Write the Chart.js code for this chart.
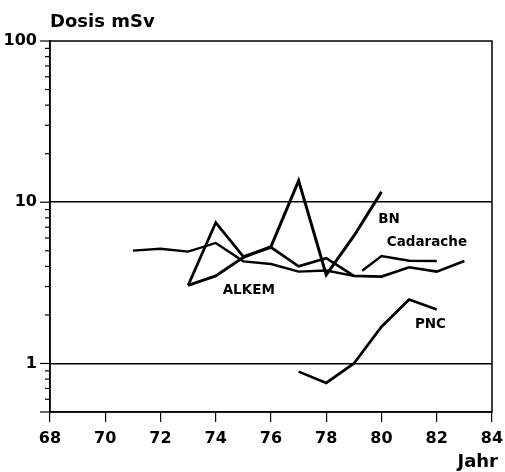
<!DOCTYPE html>
<html lang="de">
<head>
  <meta charset="UTF-8">
  <title>Dosis mSv</title>
  <script src="https://cdn.jsdelivr.net/npm/chart.js"></script>
  <style>
    body {
      margin: 0;
      background: #fff;
    }
  </style>
</head>
<body>
  <canvas id="doseChart" width="505" height="472"></canvas>

  <script>
    // Werte (Jahr, Dosis in mSv)
    const yearsAlkem = [73, 74, 75, 76, 77, 78, 79, 80, 81, 82, 83];
    const doseAlkem = [3.05, 7.47, 4.6, 5.25, 4.0, 4.5, 3.49, 3.46, 3.95, 3.71, 4.32];

    const yearsBN = [73, 74, 75, 76, 77, 78, 79, 80];
    const doseBN = [3.05, 3.49, 4.55, 5.3, 13.6, 3.54, 6.18, 11.6];

    const yearsEarly = [71, 72, 73, 74, 75, 76, 77, 78, 79];
    const doseEarly = [5.01, 5.15, 4.94, 5.59, 4.3, 4.14, 3.71, 3.77, 3.49];

    const yearsCadarache = [79.3, 80, 81, 82];
    const doseCadarache = [3.76, 4.64, 4.34, 4.32];

    const yearsPNC = [77, 78, 79, 80, 81, 82];
    const dosePNC = [0.89, 0.757, 1.0, 1.69, 2.49, 2.16];

    const yTickValues = [0.5, 0.6, 0.7, 0.8, 0.9, 1, 2, 3, 4, 5, 6, 7, 8, 9,
      10, 20, 30, 40, 50, 60, 70, 80, 90, 100];
    const yLabelValues = [1, 10, 100];
    const yTitle = 'Dosis mSv';
    const xTitle = 'Jahr';

    const toPoints = (xs, ys) => xs.map((x, i) => ({ x: x, y: ys[i] }));

    // Beschriftungen an den Kurven (Jahr, Dosis der Grundlinie)
    const curveLabels = [
      { text: 'BN', year: 79.88, dose: 7.4 },
      { text: 'Cadarache', year: 80.19, dose: 5.36 },
      { text: 'ALKEM', year: 74.25, dose: 2.7 },
      { text: 'PNC', year: 81.21, dose: 1.66 }
    ];

    const font = '"DejaVu Sans", "Liberation Sans", Arial, sans-serif';

    const framePlugin = {
      id: 'frame',
      afterDraw(chart) {
        const { ctx, chartArea: a } = chart;
        const x = chart.scales.x;
        const y = chart.scales.y;
        ctx.save();
        ctx.strokeStyle = '#000';
        ctx.lineWidth = 1.5;
        ctx.strokeRect(a.left, a.top, a.right - a.left, a.bottom - a.top);

        // kurze und lange Striche an der y-Achse
        ctx.lineWidth = 1.2;
        yTickValues.forEach(v => {
          const py = y.getPixelForValue(v);
          const len = (yLabelValues.includes(v) || v === 0.5) ? 10 : 5;
          ctx.beginPath();
          ctx.moveTo(a.left - len, py);
          ctx.lineTo(a.left, py);
          ctx.stroke();
        });

        ctx.fillStyle = '#000';
        ctx.textBaseline = 'alphabetic';
        ctx.font = 'bold 18px ' + font;
        ctx.textAlign = 'left';
        ctx.fillText(yTitle, a.left, 27);
        ctx.textAlign = 'right';
        ctx.fillText(xTitle, 498, 467);

        ctx.font = 'bold 13.5px ' + font;
        ctx.textAlign = 'left';
        curveLabels.forEach(l => {
          ctx.fillText(l.text, x.getPixelForValue(l.year), y.getPixelForValue(l.dose));
        });
        ctx.restore();
      }
    };

    const lineStyle = {
      borderColor: '#000',
      borderWidth: 2.7,
      pointRadius: 0,
      tension: 0,
      fill: false,
      borderJoinStyle: 'miter'
    };

    new Chart(document.getElementById('doseChart'), {
      type: 'line',
      data: {
        datasets: [
          { label: 'ALKEM', data: toPoints(yearsAlkem, doseAlkem), ...lineStyle },
          { label: 'BN', data: toPoints(yearsBN, doseBN), ...lineStyle, borderWidth: 3 },
          { label: 'Cadarache 71-79', data: toPoints(yearsEarly, doseEarly), ...lineStyle, borderWidth: 2.4 },
          { label: 'Cadarache', data: toPoints(yearsCadarache, doseCadarache), ...lineStyle, borderWidth: 2.4 },
          { label: 'PNC', data: toPoints(yearsPNC, dosePNC), ...lineStyle }
        ]
      },
      options: {
        responsive: false,
        animation: false,
        layout: {
          padding: { top: 41, right: 13, left: 0, bottom: 0 }
        },
        plugins: {
          legend: { display: false },
          tooltip: { enabled: false },
          title: { display: false }
        },
        scales: {
          x: {
            type: 'linear',
            min: 68,
            max: 84,
            afterFit: s => {
              s.height = 60;
              s.paddingLeft = 0;
              s.paddingRight = 0;
            },
            ticks: {
              stepSize: 2,
              color: '#000',
              padding: 7,
              font: { family: font, size: 16, weight: 'bold' }
            },
            grid: {
              drawOnChartArea: false,
              drawTicks: true,
              tickLength: 10,
              color: '#000',
              lineWidth: 1.2
            },
            border: { display: true, color: '#000', width: 1.5 }
          },
          y: {
            type: 'logarithmic',
            min: 0.5,
            max: 100,
            afterFit: s => { s.width = 50; },
            afterBuildTicks: s => {
              s.ticks = yTickValues.map(v => ({ value: v }));
            },
            ticks: {
              autoSkip: false,
              color: '#000',
              padding: 13,
              font: { family: font, size: 16, weight: 'bold' },
              callback: v => yLabelValues.includes(v) ? String(v) : ''
            },
            grid: {
              drawTicks: false,
              lineWidth: 1.5,
              color: c => (c.tick && (c.tick.value === 1 || c.tick.value === 10)) ? '#000' : 'rgba(0,0,0,0)'
            },
            border: { display: true, color: '#000', width: 1.5 }
          }
        }
      },
      plugins: [framePlugin]
    });
  </script>
</body>
</html>
